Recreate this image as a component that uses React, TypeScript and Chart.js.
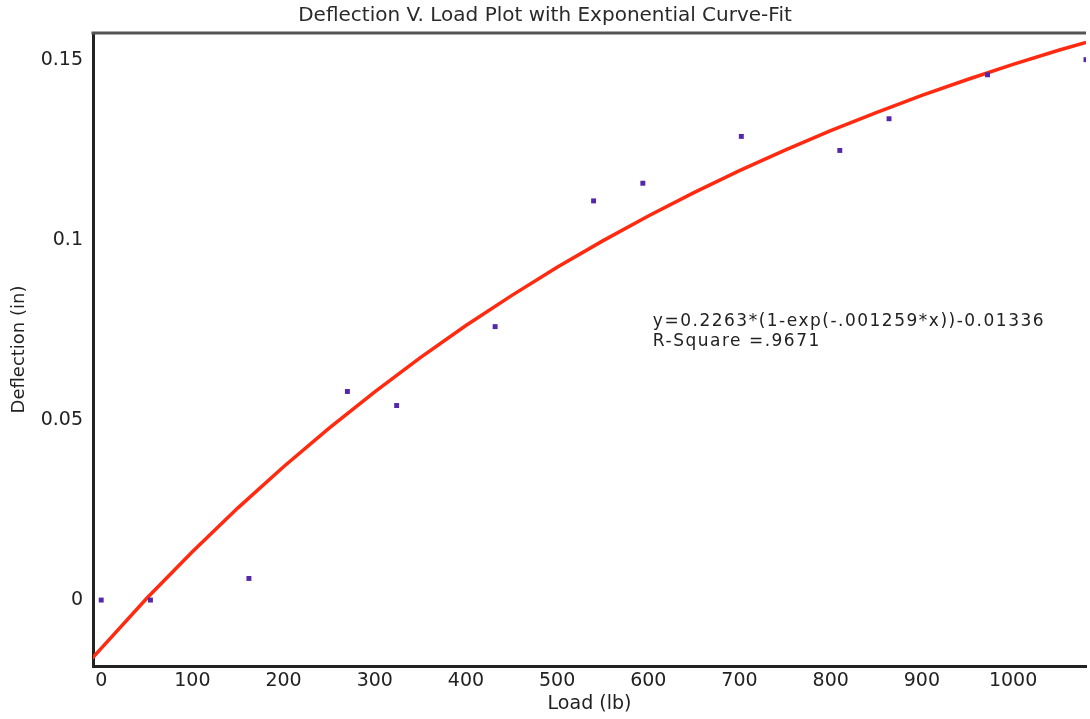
import React, { useEffect, useRef } from "react";
import { Chart, registerables } from "chart.js";

Chart.register(...registerables);

// Measured data points
const loads = [0, 54, 162, 270, 324, 432, 540, 594, 702, 810, 864, 972, 1080];
const deflections = [0, 0, 0.006, 0.0579, 0.054, 0.0759, 0.1108, 0.1157, 0.1287, 0.1248, 0.1336, 0.1458, 0.15];

// Curve-fit line
const fitLoads = [-10, 0, 50, 100, 150, 200, 250, 300, 350, 400, 450, 500, 550, 600, 650, 700, 750, 800, 850, 900, 950, 1000, 1050, 1080];
const fitDeflections = [-0.0162, -0.0134, 0.0005, 0.0134, 0.0256, 0.037, 0.0477, 0.0578, 0.0673, 0.0762, 0.0845, 0.0924, 0.0997, 0.1066, 0.1131, 0.1192, 0.1249, 0.1303, 0.1353, 0.1401, 0.1445, 0.1487, 0.1526, 0.1548];

const xTickValues = [0, 100, 200, 300, 400, 500, 600, 700, 800, 900, 1000];
const yTickValues = [0, 0.05, 0.1, 0.15];
const yTickLabels = ["0", "0.05", "0.1", "0.15"];

const titleText = "Deflection V. Load Plot with Exponential Curve-Fit";
const xTitle = "Load (lb)";
const yTitle = "Deflection (in)";
const annotationLines = ["y=0.2263*(1-exp(-.001259*x))-0.01336", "R-Square =.9671"];

const FONT = '"DejaVu Sans", "Liberation Sans", sans-serif';
const TEXT = "#222222";

export default function App() {
  const ref = useRef<HTMLCanvasElement | null>(null);

  useEffect(() => {
    document.body.style.margin = "0";
    const canvas = ref.current;
    if (!canvas) return;

    const framePlugin = {
      id: "frame",
      afterDraw(chart: any) {
        const { ctx, chartArea } = chart;
        ctx.save();
        ctx.strokeStyle = "#555555";
        ctx.lineWidth = 3;
        ctx.beginPath();
        ctx.moveTo(chartArea.left - 1.5, chartArea.top);
        ctx.lineTo(chartArea.right, chartArea.top);
        ctx.stroke();

        const xs = chart.scales.x;
        const ys = chart.scales.y;
        ctx.font = `17px ${FONT}`;
        ctx.fillStyle = TEXT;
        ctx.textBaseline = "middle";
        ctx.textAlign = "left";
        try { (ctx as any).letterSpacing = "1.5px"; } catch (e) {}
        ctx.fillText(annotationLines[0], xs.getPixelForValue(605), ys.getPixelForValue(0.0772));
        ctx.fillText(annotationLines[1], xs.getPixelForValue(605), ys.getPixelForValue(0.0718));
        ctx.restore();
      },
    };

    const chart = new Chart(canvas, {
      type: "scatter",
      data: {
        datasets: [
          {
            label: "Data",
            data: loads.map((x, i) => ({ x, y: deflections[i] })),
            pointStyle: "rect",
            pointRadius: 3.5,
            pointBackgroundColor: "#5428a8",
            pointBorderColor: "#5428a8",
            pointBorderWidth: 0,
            showLine: false,
          },
          {
            label: "Fit",
            data: fitLoads.map((x, i) => ({ x, y: fitDeflections[i] })),
            showLine: true,
            borderColor: "#ff2a10",
            borderWidth: 3.5,
            pointRadius: 0,
            tension: 0,
          },
        ],
      },
      options: {
        responsive: false,
        animation: false,
        layout: { padding: 0 },
        plugins: {
          legend: { display: false },
          tooltip: { enabled: false },
          title: {
            display: true,
            text: titleText,
            color: "#2a2a2a",
            font: { family: FONT, size: 20, weight: "normal" },
            padding: { top: 4, bottom: 5 },
          },
        },
        scales: {
          x: {
            type: "linear",
            position: "bottom",
            min: -9,
            max: 1080,
            afterBuildTicks: (s: any) => {
              s.ticks = xTickValues.map((v) => ({ value: v }));
            },
            afterFit: (s: any) => {
              s.height = 53;
            },
            grid: { display: false, drawTicks: false },
            border: { display: true, color: "#222222", width: 3 },
            ticks: {
              color: TEXT,
              font: { family: FONT, size: 19 },
              padding: 4,
              maxRotation: 0,
              autoSkip: false,
              callback: (v: any) => String(v),
            },
            title: {
              display: true,
              text: xTitle,
              color: TEXT,
              font: { family: FONT, size: 19 },
              padding: { top: 0, bottom: 4 },
            },
          },
          y: {
            type: "linear",
            min: -0.0183,
            max: 0.1574,
            afterBuildTicks: (s: any) => {
              s.ticks = yTickValues.map((v) => ({ value: v }));
            },
            afterFit: (s: any) => {
              s.width = 93;
            },
            grid: { display: false, drawTicks: false },
            border: { display: true, color: "#222222", width: 3 },
            ticks: {
              color: TEXT,
              font: { family: FONT, size: 19 },
              padding: 10,
              autoSkip: false,
              callback: (v: any) => {
                const i = yTickValues.indexOf(v);
                return i >= 0 ? yTickLabels[i] : "";
              },
            },
            title: {
              display: true,
              text: yTitle,
              color: TEXT,
              font: { family: FONT, size: 18 },
              padding: { top: 9, bottom: 0 },
            },
          },
        },
      },
      plugins: [framePlugin],
    } as any);

    return () => chart.destroy();
  }, []);

  return (
    <div style={{ width: 1090, height: 719 }}>
      <canvas ref={ref} width={1090} height={719} style={{ display: "block" }} />
    </div>
  );
}
